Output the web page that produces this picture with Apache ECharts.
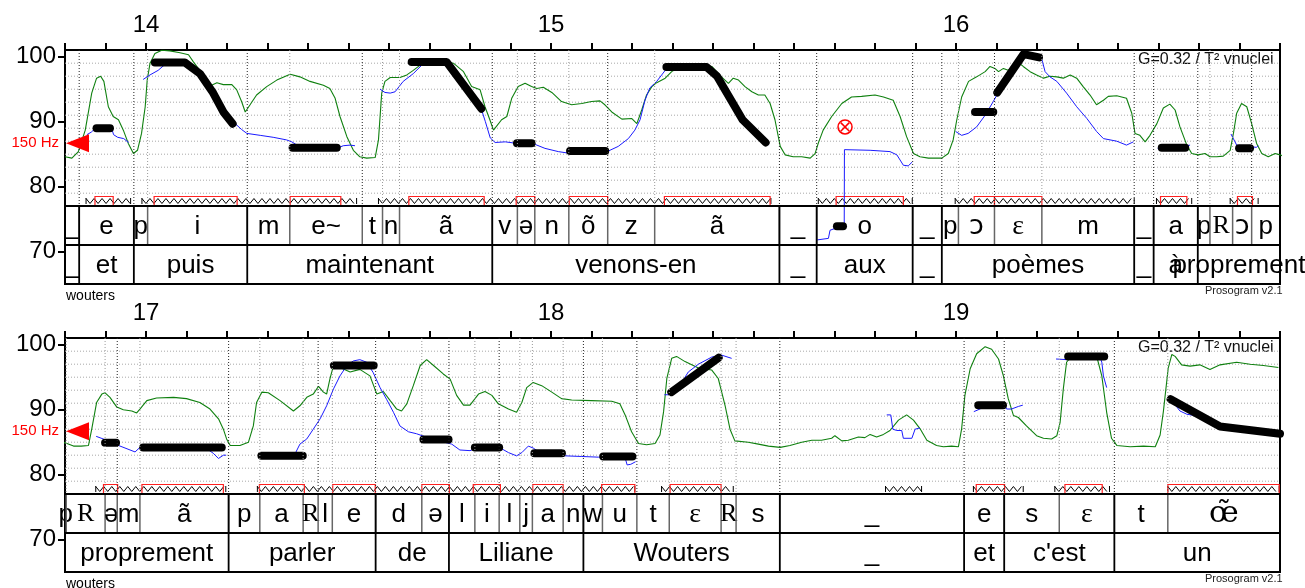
<!DOCTYPE html>
<html><head><meta charset="utf-8">
<script src="https://cdn.jsdelivr.net/npm/echarts@6/dist/echarts.min.js"></script>
<style>html,body{margin:0;padding:0;background:#fff}#c{width:1305px;height:588px}</style>
</head><body><div id="c"></div>
<script>
// ---------------- DATA ----------------
const panels = [[13.8, 16.8], [16.8, 19.8]];
const secondLabels = [[14, 15, 16], [17, 18, 19]];
const yTicks = [70, 80, 90, 100];
const gridST = [79, 81, 83, 85, 87, 89, 91, 93, 95, 97, 99];
const refST = 86.7;            // 150 Hz reference
const refLabel = '150 Hz';

// [label, start, end, syllableInitial]
const phones = [
 ['_',13.78,13.835,1],['e',13.835,13.970,1],['p',13.970,14.004,1],['i',14.004,14.250,0],
 ['m',14.250,14.355,1],['e~',14.355,14.534,0],['t',14.534,14.584,1],['n',14.584,14.626,0],['ã',14.626,14.855,0],
 ['v',14.855,14.917,1],['ə',14.917,14.960,0],['n',14.960,15.044,1],['õ',15.044,15.140,0],['z',15.140,15.256,1],['ã',15.256,15.564,0],
 ['_',15.564,15.656,1],['o',15.656,15.893,1],['_',15.893,15.965,1],
 ['p',15.965,16.006,1],['ɔ',16.006,16.095,0],['ɛ',16.095,16.212,1],['m',16.212,16.440,0],
 ['_',16.440,16.488,1],['a',16.488,16.597,1],
 ['p',16.597,16.627,1],['R',16.627,16.683,0],['ɔ',16.683,16.730,0],['p',16.730,16.803,1],['R',16.803,16.899,0],
 ['ə',16.899,16.929,0],['m',16.929,16.985,1],['ã',16.985,17.204,0],
 ['p',17.204,17.281,1],['a',17.281,17.388,0],['R',17.388,17.425,0],['l',17.425,17.460,1],['e',17.460,17.567,0],
 ['d',17.567,17.681,1],['ə',17.681,17.748,0],
 ['l',17.748,17.812,1],['i',17.812,17.872,0],['l',17.872,17.923,1],['j',17.923,17.954,0],['a',17.954,18.030,0],['n',18.030,18.080,0],
 ['w',18.080,18.127,1],['u',18.127,18.212,0],['t',18.212,18.292,1],['ɛ',18.292,18.420,0],['R',18.420,18.457,0],['s',18.457,18.565,0],
 ['_',18.565,19.020,1],['e',19.020,19.119,1],['s',19.119,19.255,1],['ɛ',19.255,19.391,0],['t',19.391,19.523,1],['œ̃',19.523,19.85,0]
];

const words = [
 ['_',13.78,13.835],['et',13.835,13.970],['puis',13.970,14.250],['maintenant',14.250,14.855],
 ['venons-en',14.855,15.564],['_',15.564,15.656],['aux',15.656,15.893],['_',15.893,15.965],
 ['poèmes',15.965,16.440],['_',16.440,16.488],['à',16.488,16.597],['proprement',16.597,17.204],
 ['parler',17.204,17.567],['de',17.567,17.748],['Liliane',17.748,18.080],['Wouters',18.080,18.565],
 ['_',18.565,19.020],['et',19.020,19.119],["c'est",19.119,19.391],['un',19.391,19.85]
];

// intensity (green)
const intensity = [
[13.800,84.6],[13.817,84.4],[13.833,85.4],[13.850,88.7],[13.866,94.4],[13.878,96.7],[13.888,97.0],[13.896,96.2],[13.907,92.3],[13.919,90.8],[13.932,90.3],[13.944,88.7],[13.956,86.7],[13.969,85.1],[13.979,85.6],[13.989,88.2],[13.998,92.3],[14.003,96.4],[14.010,99.0],[14.022,100.5],[14.039,101.0],[14.059,100.9],[14.084,100.6],[14.105,100.3],[14.117,99.2],[14.129,98.2],[14.150,95.4],[14.162,95.6],[14.175,96.0],[14.191,95.7],[14.212,95.7],[14.224,94.9],[14.236,93.1],[14.245,91.5],[14.249,91.4],[14.257,92.6],[14.273,94.1],[14.298,95.4],[14.323,96.4],[14.356,97.3],[14.380,96.9],[14.405,96.2],[14.438,95.6],[14.454,95.1],[14.467,93.6],[14.479,90.8],[14.496,87.7],[14.512,85.6],[14.528,84.6],[14.545,84.4],[14.566,84.5],[14.574,87.2],[14.582,94.4],[14.590,96.2],[14.603,96.8],[14.627,96.8],[14.644,97.2],[14.660,97.9],[14.677,98.7],[14.700,99.0],[14.740,99.2],[14.759,99.0],[14.784,97.7],[14.804,95.4],[14.825,94.9],[14.837,92.3],[14.849,90.3],[14.858,88.7],[14.878,90.3],[14.891,90.8],[14.903,93.6],[14.919,95.4],[14.936,95.9],[14.952,95.4],[14.965,95.1],[14.981,95.3],[15.002,94.5],[15.026,93.1],[15.051,92.6],[15.076,92.8],[15.100,93.1],[15.121,93.2],[15.133,92.6],[15.150,91.5],[15.175,90.4],[15.199,90.5],[15.212,89.7],[15.224,91.8],[15.236,94.1],[15.249,95.4],[15.261,96.0],[15.282,96.7],[15.298,97.7],[15.323,98.6],[15.364,98.9],[15.397,98.5],[15.421,96.9],[15.438,95.9],[15.450,96.7],[15.463,96.4],[15.479,95.4],[15.496,94.6],[15.512,94.1],[15.528,94.1],[15.541,92.8],[15.553,90.3],[15.566,86.2],[15.578,84.9],[15.598,84.6],[15.619,84.6],[15.640,84.4],[15.652,85.1],[15.660,86.7],[15.672,88.7],[15.693,90.8],[15.718,92.8],[15.742,93.8],[15.767,93.9],[15.800,94.1],[15.821,93.8],[15.845,93.3],[15.862,90.8],[15.878,87.7],[15.895,85.1],[15.911,84.6],[15.932,84.4],[15.965,84.4],[15.981,85.1],[15.993,87.2],[16.002,90.3],[16.014,93.8],[16.031,96.2],[16.051,96.9],[16.072,97.7],[16.084,98.5],[16.096,98.2],[16.105,97.7],[16.117,98.2],[16.129,97.9],[16.142,98.5],[16.154,99.1],[16.166,98.5],[16.183,97.7],[16.199,97.2],[16.216,96.7],[16.232,97.0],[16.249,96.9],[16.265,96.7],[16.282,97.2],[16.298,96.7],[16.314,95.4],[16.331,94.1],[16.347,92.6],[16.364,93.3],[16.376,93.9],[16.397,94.0],[16.421,93.6],[16.434,91.3],[16.442,88.2],[16.454,87.9],[16.467,86.9],[16.479,87.9],[16.496,89.7],[16.512,92.1],[16.528,92.7],[16.541,91.8],[16.553,89.2],[16.570,86.4],[16.582,85.1],[16.598,84.9],[16.615,85.1],[16.627,84.6],[16.644,84.6],[16.660,84.7],[16.677,85.6],[16.685,88.2],[16.693,91.3],[16.705,92.8],[16.718,92.3],[16.730,89.7],[16.742,86.7],[16.755,85.1],[16.771,84.6],[16.788,85.1],[16.800,84.9],
[16.821,84.4],[16.840,84.4],[16.858,84.5],[16.866,87.0],[16.878,91.1],[16.891,92.4],[16.899,92.6],[16.911,91.9],[16.928,90.4],[16.944,90.0],[16.965,89.8],[16.977,89.5],[16.985,90.1],[17.002,91.4],[17.026,91.8],[17.068,91.9],[17.100,91.7],[17.133,91.1],[17.158,90.1],[17.179,88.6],[17.191,87.0],[17.199,85.5],[17.208,84.5],[17.232,84.5],[17.253,85.0],[17.265,87.5],[17.273,91.1],[17.286,92.7],[17.302,92.6],[17.331,91.4],[17.364,89.8],[17.380,90.6],[17.397,91.9],[17.413,92.4],[17.426,93.6],[17.438,92.7],[17.446,92.4],[17.454,94.7],[17.463,96.8],[17.479,96.5],[17.504,95.8],[17.528,96.2],[17.553,95.2],[17.570,92.4],[17.586,92.8],[17.603,91.4],[17.619,90.1],[17.631,89.8],[17.644,90.9],[17.660,93.7],[17.677,96.8],[17.693,97.7],[17.710,96.8],[17.734,95.5],[17.751,94.7],[17.767,92.2],[17.784,90.7],[17.800,90.7],[17.821,92.4],[17.837,92.8],[17.854,92.2],[17.870,90.9],[17.895,90.1],[17.915,89.6],[17.928,91.1],[17.940,93.4],[17.956,94.2],[17.977,93.7],[18.002,92.7],[18.026,91.7],[18.051,91.5],[18.100,91.4],[18.150,91.3],[18.170,90.9],[18.183,89.2],[18.199,86.6],[18.216,84.8],[18.236,84.6],[18.257,84.8],[18.269,86.1],[18.278,89.7],[18.286,94.8],[18.298,97.9],[18.310,98.2],[18.331,97.4],[18.364,96.4],[18.397,96.1],[18.413,94.8],[18.430,90.6],[18.442,87.0],[18.454,85.2],[18.487,85.0],[18.512,84.7],[18.537,84.4],[18.566,84.2],[18.590,84.5],[18.619,85.0],[18.644,85.3],[18.668,85.3],[18.693,85.6],[18.701,86.0],[18.718,85.2],[18.734,85.3],[18.759,85.8],[18.775,85.7],[18.788,86.2],[18.804,85.8],[18.821,86.2],[18.837,86.8],[18.858,88.4],[18.878,89.2],[18.895,88.4],[18.911,87.1],[18.928,85.3],[18.952,84.5],[18.969,84.3],[18.989,84.4],[19.006,84.3],[19.014,87.1],[19.022,92.2],[19.035,96.3],[19.051,98.6],[19.072,99.7],[19.088,99.3],[19.105,97.8],[19.117,95.2],[19.129,91.7],[19.142,89.1],[19.154,88.8],[19.174,87.5],[19.199,86.0],[19.216,85.6],[19.236,85.5],[19.249,86.0],[19.257,88.0],[19.265,93.2],[19.273,97.3],[19.286,98.3],[19.314,98.6],[19.347,98.3],[19.360,95.2],[19.372,89.6],[19.384,85.6],[19.397,84.5],[19.430,84.3],[19.463,84.4],[19.492,84.3],[19.504,86.1],[19.512,89.7],[19.524,96.4],[19.533,98.5],[19.541,98.2],[19.557,96.9],[19.578,96.7],[19.602,96.9],[19.627,96.2],[19.652,96.9],[19.693,97.3],[19.726,97.0],[19.759,96.8],[19.796,96.5]
];

// F0 (blue), one array per voiced stretch
const f0Segments = [
 [[13.854,88.0],[13.865,88.4],[13.875,89.0],[13.915,89.0],[13.920,88.0],[13.930,87.6],[13.945,87.4],[13.957,86.8]],
 [[13.993,96.5],[14.010,97.2],[14.030,97.9],[14.043,98.6],[14.060,99.0],[14.096,99.0],[14.133,97.3],[14.166,94.3],[14.191,91.6],[14.215,90.0],[14.236,88.8],[14.249,88.2],[14.282,87.9],[14.314,87.6],[14.347,87.2],[14.360,86.9],[14.380,86.1],[14.479,86.1],[14.487,86.3],[14.504,86.4],[14.516,86.3]],
 [[14.578,95.0],[14.590,94.5],[14.603,94.4],[14.615,94.6],[14.635,96.2],[14.660,97.4],[14.681,98.7],[14.700,99.2],[14.742,99.2],[14.790,95.5],[14.825,92.5],[14.838,90.0],[14.850,87.5],[14.862,86.8],[14.887,86.9],[14.911,86.7],[14.961,86.5],[14.985,85.9],[15.018,85.4],[15.039,85.2],[15.142,85.5],[15.166,86.2],[15.191,87.4],[15.207,88.7],[15.220,90.3],[15.232,93.3],[15.244,95.2],[15.261,96.2],[15.282,97.9],[15.298,98.7],[15.347,98.9],[15.384,98.4],[15.409,96.9],[15.475,90.3],[15.537,86.4]],
 [[15.656,71.8],[15.685,72.05],[15.689,73.3],[15.714,73.85],[15.724,74.1],[15.7245,85.7],[15.788,85.6],[15.837,85.4],[15.854,84.9],[15.870,83.3],[15.882,83.2],[15.892,83.8]],
 [[15.999,88.5],[16.014,87.9],[16.030,88.2],[16.051,89.2],[16.072,91.0],[16.092,93.1],[16.100,94.0],[16.166,100.3],[16.211,99.8],[16.220,97.7],[16.232,96.9],[16.249,96.2],[16.273,94.4],[16.298,92.3],[16.323,90.5],[16.347,88.5],[16.364,87.4],[16.397,87.0],[16.421,86.4],[16.438,86.9]],
 [[16.498,85.9],[16.540,86.0],[16.578,86.4]],
 [[16.679,88.1],[16.693,86.4],[16.742,86.05],[16.746,86.3]],
 [[16.877,85.9],[16.903,85.3],[16.932,84.5],[16.973,83.5],[16.985,84.2],[17.150,84.0],[17.166,83.3],[17.179,82.5],[17.191,83.0],[17.198,83.0]],
 [[17.280,82.7],[17.314,82.5],[17.364,82.7],[17.380,84.7],[17.397,85.5],[17.413,87.0],[17.430,88.6],[17.446,90.6],[17.463,93.2],[17.479,95.2],[17.496,96.8],[17.512,97.5],[17.528,97.7],[17.545,97.3],[17.561,95.7],[17.578,93.4],[17.594,91.6],[17.611,89.6],[17.627,87.5],[17.648,86.6],[17.668,86.3],[17.700,85.6],[17.755,84.7],[17.775,83.8],[17.800,83.7],[17.820,84.2],[17.878,84.0],[17.895,83.4],[17.915,82.9],[17.928,83.4],[17.944,84.4],[17.956,84.1],[17.975,83.3],[18.035,82.9],[18.076,82.8],[18.117,82.7],[18.183,82.6],[18.188,81.5],[18.197,81.6],[18.209,82.0]],
 [[18.280,92.3],[18.291,92.3],[18.323,94.2],[18.339,95.8],[18.364,97.0],[18.397,98.1],[18.421,98.4],[18.446,97.9]],
 [[18.829,89.2],[18.839,89.2],[18.844,87.0],[18.854,86.8],[18.866,86.8],[18.870,85.6],[18.891,85.6],[18.899,87.0],[18.911,87.2]],
 [[19.044,89.7],[19.059,90.1],[19.075,90.7],[19.120,90.7],[19.125,90.1],[19.137,90.1],[19.154,90.5],[19.165,90.7]],
 [[19.247,97.8],[19.273,97.7],[19.300,98.2],[19.355,98.2],[19.360,97.3],[19.364,95.2],[19.372,93.4]],
 [[19.533,91.4],[19.553,89.8],[19.570,89.3],[19.590,89.1]]
];

// stylized nuclei (thick black)
const nuclei = [
 [[13.878,89.0],[13.911,89.0]],
 [[14.022,99.1],[14.096,99.1],[14.133,97.4],[14.166,94.4],[14.191,91.5],[14.214,89.7]],
 [[14.362,86.0],[14.471,86.0]],
 [[14.656,99.2],[14.742,99.2],[14.828,92.0]],
 [[14.916,86.7],[14.952,86.7]],
 [[15.047,85.5],[15.134,85.5]],
 [[15.285,98.4],[15.384,98.4],[15.410,97.0],[15.473,90.3],[15.530,86.8]],
 [[15.706,73.9],[15.721,73.9]],
 [[16.047,91.5],[16.092,91.5]],
 [[16.102,94.5],[16.167,100.4],[16.205,99.9]],
 [[16.508,86.0],[16.566,86.0]],
 [[16.699,85.9],[16.726,85.9]],
 [[16.899,84.9],[16.926,84.9]],
 [[16.993,84.2],[17.187,84.2]],
 [[17.285,82.9],[17.387,82.9]],
 [[17.464,96.8],[17.562,96.8]],
 [[17.685,85.4],[17.747,85.4]],
 [[17.812,84.2],[17.872,84.2]],
 [[17.959,83.3],[18.027,83.3]],
 [[18.129,82.8],[18.201,82.8]],
 [[18.297,92.7],[18.414,98.0]],
 [[19.055,90.7],[19.116,90.7]],
 [[19.277,98.2],[19.366,98.2]],
 [[19.530,91.6],[19.652,87.4],[19.800,86.3]]
];

// voiced stretches (zigzag) and nucleus boxes (red)
const zigzags = [
 [13.852,13.962],[13.990,14.520],[14.574,15.543],[15.660,15.892],[15.998,16.440],[16.495,16.582],[16.677,16.746],
 [16.876,17.197],[17.275,18.207],[18.273,18.450],[18.826,18.915],[19.043,19.166],[19.244,19.379],[19.523,19.798]
];
const nucleusBoxes = [
 [13.874,13.919],[14.020,14.225],[14.356,14.481],[14.649,14.835],[14.914,14.960],[15.045,15.140],[15.280,15.541],
 [15.704,15.870],[16.045,16.095],[16.095,16.212],[16.505,16.570],[16.695,16.732],
 [16.895,16.930],[16.990,17.191],[17.280,17.391],[17.461,17.566],[17.681,17.749],[17.808,17.875],[17.955,18.030],
 [18.125,18.207],[18.294,18.420],[19.050,19.120],[19.269,19.361],[19.523,19.798]
];
const unreliable = [[15.726, 89.2]];

// ---------------- CHART ----------------
const Y_MIN = 65.03, Y_MAX = 101.03, TIER_TOP = 77.03, TIER_MID = 71.03;
const SANS = '"Liberation Sans", Arial, Helvetica, sans-serif';
const SERIF = '"Liberation Serif", "DejaVu Serif", "Times New Roman", serif';
const phoneFont = {
  'R': '26px ' + SERIF,
  'ɛ': '28px ' + SERIF,
  'œ̃': '30px "DejaVu Serif", serif',
  'ɔ': '27px "DejaVu Sans", sans-serif'
};
const EMPTY = {type: 'group', children: []};

const grid = [], xAxis = [], yAxis = [], series = [];
panels.forEach((range, i) => {
  const [t0, t1] = range;
  grid.push({left: 65, top: [50, 338][i], width: 1215, height: 234, show: true,
    borderColor: '#000', borderWidth: 2, backgroundColor: 'rgba(0,0,0,0)'});
  xAxis.push({gridIndex: i, type: 'value', position: 'top', min: t0, max: t1, interval: 0.1,
    axisLine: {show: true, onZero: false, lineStyle: {color: '#000', width: 2}},
    axisTick: {show: true, length: 7, lineStyle: {color: '#000', width: 2}},
    axisLabel: {customValues: secondLabels[i], color: '#000', fontSize: 24, fontFamily: SANS, margin: 13},
    splitLine: {show: false}});
  yAxis.push({gridIndex: i, type: 'value', min: Y_MIN, max: Y_MAX,
    axisLine: {show: true, onZero: false, lineStyle: {color: '#000', width: 2}},
    axisTick: {show: true, customValues: yTicks, length: 7, lineStyle: {color: '#000', width: 2}},
    axisLabel: {customValues: yTicks, color: '#000', fontSize: 24, fontFamily: SANS, margin: 9},
    splitLine: {show: false}});
  const ax = {xAxisIndex: i, yAxisIndex: i, animation: false, silent: true};

  // horizontal dotted grid lines
  series.push({type: 'custom', ...ax, z: 1, data: gridST.map(v => [t0, v]),
    renderItem: (p, api) => {
      const v = api.value(1);
      const a = api.coord([t0, v]), b = api.coord([t1, v]);
      return {type: 'line', shape: {x1: a[0], y1: a[1], x2: b[0], y2: b[1]},
        style: {stroke: '#a8a8a8', lineWidth: 1, lineDash: [1, 2]}};
    }});

  // intensity
  series.push({type: 'line', ...ax, z: 3, data: intensity, showSymbol: false, symbol: 'none', clip: true,
    lineStyle: {color: '#0f800f', width: 1.1}});
  // F0
  f0Segments.forEach(seg => series.push({type: 'line', ...ax, z: 4, data: seg, showSymbol: false,
    symbol: 'none', clip: true, lineStyle: {color: '#1a1aff', width: 1}}));
  // nuclei
  nuclei.forEach(seg => series.push({type: 'line', ...ax, z: 5, data: seg, showSymbol: false,
    symbol: 'none', clip: true, lineStyle: {color: '#000', width: 8, cap: 'round', join: 'round'}}));

  // zigzags
  series.push({type: 'custom', ...ax, z: 4, data: zigzags,
    renderItem: (p, api) => {
      const s = api.value(0), e = api.value(1);
      if (e <= t0 || s >= t1) return EMPTY;
      const a = api.coord([Math.max(s, t0), TIER_TOP]), b = api.coord([Math.min(e, t1), TIER_TOP]);
      const yb = a[1], hi = yb - 7.5, lo = yb - 2.5;
      const pts = [];
      let k = 0;
      for (let x = a[0]; x <= b[0]; x += 4, k++) pts.push([x, k % 2 ? lo : hi]);
      return {type: 'group', children: [
        {type: 'polyline', shape: {points: pts}, style: {stroke: '#000', lineWidth: 1, fill: null}},
        {type: 'line', shape: {x1: a[0], y1: yb - 8, x2: a[0], y2: yb - 2}, style: {stroke: '#000', lineWidth: 1}},
        {type: 'line', shape: {x1: b[0], y1: yb - 8, x2: b[0], y2: yb - 2}, style: {stroke: '#000', lineWidth: 1}}
      ]};
    }});
  // nucleus boxes
  series.push({type: 'custom', ...ax, z: 4, data: nucleusBoxes,
    renderItem: (p, api) => {
      const s = api.value(0), e = api.value(1);
      if (e <= t0 || s >= t1) return EMPTY;
      const a = api.coord([Math.max(s, t0), TIER_TOP]), b = api.coord([Math.min(e, t1), TIER_TOP]);
      return {type: 'rect', shape: {x: a[0], y: a[1] - 9.5, width: b[0] - a[0], height: 9},
        style: {stroke: '#ff2020', lineWidth: 1.2, fill: null}};
    }});

  // phone tier
  series.push({type: 'custom', ...ax, z: 6, data: phones.map(ph => [ph[1], ph[2]]),
    renderItem: (p, api) => {
      const ph = phones[p.dataIndex];
      const s = ph[1], e = ph[2];
      if (e <= t0 || s >= t1) return EMPTY;
      const x0 = api.coord([Math.max(s, t0), TIER_TOP])[0], x1 = api.coord([Math.min(e, t1), TIER_TOP])[0];
      const xs = api.coord([s, TIER_TOP])[0];
      const yT = api.coord([s, TIER_TOP])[1], yM = api.coord([s, TIER_MID])[1], yMax = api.coord([s, Y_MAX])[1];
      const ch = [];
      if (s > t0 + 1e-6) {
        ch.push({type: 'line', shape: {x1: xs, y1: yT, x2: xs, y2: yM}, style: {stroke: '#666', lineWidth: 1.5}});
        ch.push({type: 'line', shape: {x1: xs, y1: yMax, x2: xs, y2: yT},
          style: {stroke: ph[3] ? '#222' : '#999', lineWidth: 1, lineDash: [1, 2]}});
      }
      const font = phoneFont[ph[0]] || ('26px ' + SANS);
      ch.push({type: 'text', style: {text: ph[0], x: (x0 + x1) / 2, y: (yT + yM) / 2 + 1, align: 'center',
        verticalAlign: 'middle', font: font, fill: '#000'}});
      return {type: 'group', children: ch};
    }});
  // word tier
  series.push({type: 'custom', ...ax, z: 7, data: words.map(w => [w[1], w[2]]),
    renderItem: (p, api) => {
      const w = words[p.dataIndex];
      const s = w[1], e = w[2];
      if (e <= t0 || s >= t1) return EMPTY;
      const x0 = api.coord([Math.max(s, t0), TIER_TOP])[0], x1 = api.coord([Math.min(e, t1), TIER_TOP])[0];
      const xs = api.coord([s, TIER_TOP])[0];
      const yT = api.coord([s, TIER_TOP])[1], yM = api.coord([s, TIER_MID])[1], yB = api.coord([s, Y_MIN])[1];
      const ch = [];
      if (s > t0 + 1e-6) ch.push({type: 'line', shape: {x1: xs, y1: yT, x2: xs, y2: yB}, style: {stroke: '#000', lineWidth: 1.8}});
      ch.push({type: 'text', style: {text: w[0], x: (x0 + x1) / 2, y: (yM + yB) / 2 + 1, align: 'center',
        verticalAlign: 'middle', font: '26px ' + SANS, fill: '#000'}});
      return {type: 'group', children: ch};
    }});
  // tier separator lines
  series.push({type: 'custom', ...ax, z: 7, data: [[t0, TIER_TOP], [t0, TIER_MID]],
    renderItem: (p, api) => {
      const a = api.coord([t0, api.value(1)]), b = api.coord([t1, api.value(1)]);
      return {type: 'line', shape: {x1: a[0], y1: a[1], x2: b[0], y2: b[1]}, style: {stroke: '#000', lineWidth: 2}};
    }});
  // 150 Hz reference triangle + label
  series.push({type: 'custom', ...ax, z: 8, data: [[t0, refST]],
    renderItem: (p, api) => {
      const c = api.coord([t0, api.value(1)]);
      const x = c[0] + 1, y = c[1];
      return {type: 'group', children: [
        {type: 'polygon', shape: {points: [[x, y], [x + 23, y - 9], [x + 23, y + 9]]}, style: {fill: '#ff0000'}},
        {type: 'text', style: {text: refLabel, x: x - 7, y: y, align: 'right', verticalAlign: 'middle',
          font: '15px ' + SANS, fill: '#ff0000'}}
      ]};
    }});
  // unreliable-pitch marker
  series.push({type: 'custom', ...ax, z: 8, data: unreliable,
    renderItem: (p, api) => {
      const t = api.value(0);
      if (t < t0 || t > t1) return EMPTY;
      const c = api.coord([t, api.value(1)]);
      const r = 7, d = 4.3;
      return {type: 'group', children: [
        {type: 'circle', shape: {cx: c[0], cy: c[1], r: r}, style: {stroke: '#ff0000', lineWidth: 1.5, fill: null}},
        {type: 'line', shape: {x1: c[0] - d, y1: c[1] - d, x2: c[0] + d, y2: c[1] + d}, style: {stroke: '#ff0000', lineWidth: 1.5}},
        {type: 'line', shape: {x1: c[0] - d, y1: c[1] + d, x2: c[0] + d, y2: c[1] - d}, style: {stroke: '#ff0000', lineWidth: 1.5}}
      ]};
    }});
});

const graphic = [];
[0, 288].forEach(off => {
  graphic.push({type: 'text', left: 1138, top: 52 + off, silent: true,
    style: {text: 'G=0.32 / T² vnuclei', font: '16px ' + SANS, fill: '#111'}});
  graphic.push({type: 'text', left: 66, top: 289 + off, silent: true,
    style: {text: 'wouters', font: '14px ' + SANS, fill: '#000'}});
  graphic.push({type: 'text', left: 1205, top: 285 + off, silent: true,
    style: {text: 'Prosogram v2.1', font: '11px "Liberation Sans Narrow", ' + SANS, fill: '#222'}});
});

const chart = echarts.init(document.getElementById('c'), null, {renderer: 'canvas'});
chart.setOption({animation: false, grid, xAxis, yAxis, series, graphic});
</script>
</body></html>
